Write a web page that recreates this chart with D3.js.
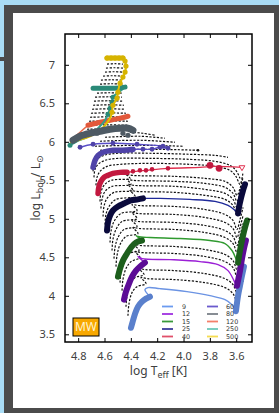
<!DOCTYPE html>
<html><head><meta charset="utf-8">
<script src="https://cdn.jsdelivr.net/npm/d3@7/dist/d3.min.js"></script>
<style>
html,body{margin:0;padding:0;background:#a9dcf5;overflow:hidden;}
svg{display:block;}
</style></head><body>
<svg id="c" width="279" height="413"></svg>
<script>
// ---------------- data ----------------
const masses = ["9","12","15","25","40","60","80","120","250","500"];
const thickColors = ["#5a80cc","#5c0c96","#1c5e1c","#0a0a3c","#c2183f","#4f43a8","#4e5a64","#e2583a","#2a8a78","#d6b300"];
const thinColors  = ["#6b93e3","#9b1fd6","#2f9a2f","#1f2a9a","#e0304f","#5a4fc8","#5f6b75","#e86a4a","#33a08c","#e0c000"];
const legendColors = ["#6b9bf0","#a030e0","#3a9a3a","#3b3b9b","#e0506a","#6a5acd","#7a8088","#f57f6a","#6cc8b8","#f5dc50"];
const xTicks = [4.8,4.6,4.4,4.2,4.0,3.8,3.6];
const yTicks = [3.5,4,4.5,5,5.5,6,6.5,7];

// coloured tracks [logTeff, logL]
const m9ms   = [[4.399,3.585],[4.384,3.676],[4.368,3.767],[4.346,3.858],[4.315,3.923],[4.285,3.963],[4.255,3.989]];
const m9post = [[4.255,3.989],[4.293,4.080],[4.270,4.106],[4.179,4.093],[3.974,4.054],[3.799,4.002],[3.685,3.950],[3.632,3.884],[3.602,3.793]];
const m9rsg  = [[3.602,3.800],[3.586,4.002],[3.571,4.132],[3.556,4.262],[3.541,4.379]];

const m12ms   = [[4.452,3.950],[4.437,4.054],[4.414,4.158],[4.391,4.249],[4.361,4.327],[4.331,4.379],[4.293,4.431]];
const m12post = [[4.293,4.431],[4.346,4.510],[4.315,4.483],[4.103,4.470],[3.875,4.444],[3.738,4.405],[3.662,4.327],[3.617,4.197],[3.594,4.119]];
const m12rsg  = [[3.594,4.130],[3.571,4.327],[3.556,4.483],[3.541,4.614],[3.526,4.718]];

const m15ms   = [[4.498,4.249],[4.482,4.353],[4.460,4.457],[4.429,4.549],[4.399,4.627],[4.361,4.692],[4.315,4.718]];
const m15post = [[4.315,4.718],[4.361,4.783],[4.346,4.770],[4.255,4.757],[4.027,4.744],[3.799,4.718],[3.685,4.679],[3.632,4.588],[3.602,4.483],[3.586,4.418]];
const m15rsg  = [[3.586,4.430],[3.579,4.510],[3.564,4.653],[3.548,4.783],[3.533,4.887],[3.518,4.978]];

const m25ms   = [[4.581,4.848],[4.574,4.952],[4.558,5.043],[4.536,5.108],[4.498,5.160],[4.452,5.199],[4.399,5.239],[4.346,5.252],[4.308,5.265]];
const m25post = [[4.308,5.265],[4.179,5.265],[3.951,5.252],[3.761,5.226],[3.662,5.173],[3.617,5.121],[3.586,5.069]];
const m25rsg  = [[3.586,5.070],[3.579,5.147],[3.564,5.265],[3.548,5.369],[3.533,5.447]];

const m40ms   = [[4.649,5.330],[4.642,5.421],[4.627,5.486],[4.604,5.538],[4.574,5.564],[4.536,5.590],[4.482,5.603],[4.429,5.603]];
const m40post = [[4.429,5.603],[4.118,5.655],[3.875,5.668],[3.761,5.681],[3.556,5.668]];
const m40dots = [[4.384,5.616],[4.331,5.629],[4.285,5.629],[4.239,5.642],[4.118,5.655]];
const m40big  = [[3.799,5.694],[3.730,5.655]];
const m40end  = [[3.556,5.668]];

const m60ms   = [[4.687,5.668],[4.672,5.759],[4.649,5.824],[4.611,5.864],[4.536,5.890],[4.460,5.890],[4.384,5.903]];
const m60post = [[4.384,5.903],[4.308,5.903],[4.239,5.903],[4.179,5.929],[4.118,5.916],[4.156,5.942],[4.353,5.968],[4.520,5.981],[4.687,5.968],[4.786,5.929]];
const m60dots = [[4.444,5.890],[4.391,5.890],[4.308,5.903],[4.239,5.903],[4.179,5.929],[4.118,5.916],[4.156,5.942],[4.353,5.968],[4.536,5.981],[4.687,5.968],[4.786,5.929]];

const m80ms   = [[4.839,6.020],[4.786,6.072],[4.710,6.111],[4.634,6.137],[4.558,6.163],[4.482,6.176],[4.422,6.176],[4.384,6.150]];
const m80dots = [[4.657,6.111],[4.460,6.111],[4.422,6.085]];

const m120ms   = [[4.725,6.215],[4.634,6.254],[4.558,6.280],[4.482,6.306],[4.422,6.332]];
const m120post = [[4.725,6.215],[4.786,6.124],[4.847,6.033]];

const m250ms   = [[4.687,6.697],[4.596,6.697],[4.520,6.697],[4.444,6.710]];
const m250post = [[4.444,6.710],[4.482,6.658],[4.536,6.580],[4.543,6.515],[4.558,6.436],[4.574,6.358],[4.596,6.280],[4.649,6.176],[4.718,6.072],[4.809,6.007],[4.862,5.955]];
const m250dots = [[4.536,6.580],[4.543,6.515],[4.558,6.436],[4.574,6.358],[4.862,5.955]];

const m500ms   = [[4.581,7.087],[4.520,7.087],[4.460,7.087]];
const m500post = [[4.460,7.087],[4.444,7.048],[4.437,6.983],[4.444,6.905],[4.460,6.840],[4.482,6.762],[4.498,6.645],[4.505,6.567],[4.536,6.475],[4.543,6.384],[4.558,6.306],[4.589,6.228],[4.634,6.150],[4.710,6.072],[4.801,6.020],[4.862,5.994]];
const m500dots = [[4.581,7.087],[4.550,7.087],[4.520,7.087],[4.490,7.087],[4.460,7.087],[4.444,7.048],[4.437,6.983],[4.444,6.905],[4.460,6.840],[4.482,6.762],[4.498,6.645],[4.505,6.567],[4.536,6.475],[4.543,6.384]];

// black dotted grid tracks
const d1  = [[4.422,3.741],[4.414,3.897],[4.391,4.041],[4.353,4.119],[4.285,4.158],[4.323,4.236],[4.277,4.223],[4.065,4.210],[3.837,4.171],[3.685,4.106],[3.624,4.028],[3.594,3.923],[3.571,4.041],[3.548,4.197]];
const d2  = [[4.437,3.858],[4.429,4.002],[4.406,4.145],[4.368,4.236],[4.300,4.275],[4.338,4.353],[4.293,4.340],[4.065,4.327],[3.837,4.288],[3.685,4.223],[3.624,4.145],[3.594,4.041],[3.571,4.145],[3.548,4.301]];
const d3t = [[4.467,4.067],[4.460,4.210],[4.437,4.353],[4.399,4.444],[4.331,4.497],[4.368,4.575],[4.323,4.562],[4.065,4.549],[3.837,4.510],[3.685,4.444],[3.624,4.366],[3.594,4.249],[3.571,4.379],[3.548,4.536]];
const d4  = [[4.482,4.171],[4.475,4.314],[4.452,4.444],[4.414,4.549],[4.338,4.588],[4.376,4.666],[4.331,4.653],[4.065,4.640],[3.837,4.601],[3.685,4.536],[3.624,4.457],[3.594,4.340],[3.571,4.470],[3.548,4.627]];
const d5  = [[4.513,4.379],[4.505,4.523],[4.482,4.666],[4.437,4.770],[4.346,4.809],[4.384,4.887],[4.338,4.874],[4.065,4.861],[3.837,4.822],[3.685,4.757],[3.624,4.679],[3.594,4.562],[3.571,4.692],[3.548,4.848]];
const d6  = [[4.528,4.483],[4.520,4.627],[4.498,4.757],[4.452,4.861],[4.353,4.900],[4.391,4.978],[4.346,4.965],[4.065,4.952],[3.837,4.913],[3.685,4.848],[3.624,4.770],[3.594,4.653],[3.571,4.783],[3.548,4.939]];
const d7  = [[4.543,4.588],[4.536,4.731],[4.513,4.861],[4.467,4.965],[4.353,5.004],[4.391,5.082],[4.346,5.069],[4.065,5.056],[3.837,5.017],[3.685,4.952],[3.624,4.874],[3.594,4.757],[3.571,4.887],[3.548,5.043]];
const d8  = [[4.558,4.692],[4.551,4.835],[4.528,4.965],[4.475,5.069],[4.353,5.108],[4.391,5.186],[4.346,5.173],[4.065,5.160],[3.837,5.121],[3.685,5.056],[3.624,4.978],[3.594,4.861],[3.571,4.991],[3.548,5.147]];
const d9  = [[4.596,4.926],[4.589,5.056],[4.566,5.160],[4.513,5.252],[4.368,5.291],[4.406,5.369],[4.361,5.356],[4.065,5.343],[3.837,5.304],[3.685,5.252],[3.624,5.173],[3.594,5.056],[3.571,5.173],[3.548,5.330]];
const d10 = [[4.611,5.030],[4.604,5.160],[4.581,5.265],[4.528,5.343],[4.384,5.369],[4.422,5.447],[4.376,5.434],[4.065,5.421],[3.837,5.382],[3.685,5.330],[3.624,5.252],[3.594,5.147],[3.571,5.265],[3.548,5.408]];
const d11 = [[4.627,5.134],[4.619,5.252],[4.596,5.356],[4.543,5.421],[4.399,5.447],[4.429,5.512],[4.384,5.499],[4.065,5.486],[3.837,5.460],[3.685,5.408],[3.624,5.330],[3.594,5.226],[3.571,5.330],[3.548,5.473]];
const d12 = [[4.634,5.226],[4.627,5.343],[4.604,5.434],[4.551,5.499],[4.406,5.525],[4.437,5.577],[4.391,5.564],[4.065,5.551],[3.837,5.525],[3.685,5.486],[3.624,5.408],[3.594,5.304],[3.571,5.395],[3.548,5.538]];
const d13 = [[4.665,5.434],[4.657,5.538],[4.634,5.616],[4.581,5.681],[4.482,5.707],[4.255,5.720],[3.951,5.707],[3.761,5.681],[3.647,5.629],[3.602,5.551],[3.571,5.447],[3.548,5.603]];
const d14 = [[4.680,5.538],[4.672,5.642],[4.649,5.707],[4.596,5.759],[4.498,5.785],[4.255,5.785],[3.951,5.772],[3.761,5.746],[3.647,5.694],[3.602,5.629],[3.571,5.525]];
const d15 = [[4.687,5.616],[4.680,5.707],[4.657,5.772],[4.604,5.824],[4.498,5.851],[4.255,5.851],[3.951,5.838],[3.761,5.824],[3.662,5.798]];
const d16 = [[4.634,5.890],[4.255,5.903],[3.890,5.890]];
const d17 = [[4.672,5.942],[4.331,5.955],[4.004,5.942]];
const d18 = [[4.634,6.007],[4.331,6.020],[4.065,5.994]];
const d19 = [[4.596,6.059],[4.331,6.072],[4.141,6.046]];
const d20 = [[4.406,6.124],[4.308,6.111],[4.217,6.085]];
const d16end = [[3.890,5.890]];

// short dotted tracks in the upper fan
const upperL  = [7.009,6.957,6.905,6.853,6.801,6.749,6.684,6.632,6.580,6.528,6.475,6.423,6.371,6.319,6.267,6.215,6.163];
const upperTl = [4.581,4.589,4.596,4.611,4.627,4.634,4.649,4.657,4.672,4.680,4.687,4.695,4.703,4.710,4.718,4.725,4.733];
const upperTr = [4.460,4.460,4.460,4.467,4.467,4.460,4.460,4.467,4.467,4.460,4.452,4.444,4.437,4.429,4.422,4.414,4.399];

// ---------------- drawing ----------------
const svg = d3.select("#c");
const W = 279, H = 413;
svg.append("rect").attr("x",4).attr("y",5).attr("width",W).attr("height",H).attr("fill","#4b4b4b");
svg.append("rect").attr("x",0).attr("y",57).attr("width",6).attr("height",4).attr("fill","#4b4b4b");
svg.append("rect").attr("x",13).attr("y",13).attr("width",261).attr("height",395).attr("fill","#ffffff");

const L = 65, R = 252, T = 34, B = 342;
const x = d3.scaleLinear().domain([4.9,3.48]).range([L,R]);
const y = d3.scaleLinear().domain([3.4,7.4]).range([B,T]);
const font = "'Noto Sans', 'DejaVu Sans', sans-serif";

svg.append("clipPath").attr("id","clip").append("rect")
  .attr("x",L).attr("y",T).attr("width",R-L).attr("height",B-T);
const g = svg.append("g").attr("clip-path","url(#clip)");

const line = d3.line().x(d=>x(d[0])).y(d=>y(d[1])).curve(d3.curveCatmullRom.alpha(0.5));

// dotted tracks
const dotted = [d1,d2,d3t,d4,d5,d6,d7,d8,d9,d10,d11,d12,d13,d14,d15,d16,d17,d18,d19,d20];
const upper = upperL.map((l,i)=>[[upperTl[i],l],[(upperTl[i]+upperTr[i])/2,l+0.005],[upperTr[i],l]]);
g.append("g").selectAll("path").data(dotted.concat(upper)).join("path")
  .attr("d",line).attr("fill","none").attr("stroke","#111")
  .attr("stroke-width",1.2).attr("stroke-dasharray","2.2 1.5");
g.append("g").selectAll("circle").data(d16end).join("circle")
  .attr("cx",d=>x(d[0])).attr("cy",d=>y(d[1])).attr("r",1.3).attr("fill","#111");

// coloured tracks (80 Msun drawn last, on top of the converging thin lines)
const tracks = [
  {i:0, thin:[m9post],  thick:[m9ms,m9rsg], w:6},
  {i:1, thin:[m12post], thick:[m12ms,m12rsg], w:6},
  {i:2, thin:[m15post], thick:[m15ms,m15rsg], w:6},
  {i:3, thin:[m25post], thick:[m25ms,m25rsg], w:6},
  {i:4, thin:[m40post], thick:[m40ms], w:5.5},
  {i:5, thin:[m60post], thick:[m60ms], w:5.5},
  {i:7, thin:[m120post], thick:[m120ms], w:5},
  {i:8, thin:[m250post], thick:[m250ms], w:5},
  {i:9, thin:[m500post], thick:[m500ms], w:5},
  {i:6, thin:[], thick:[m80ms], w:7}
];
const dots = [
  {i:4, pts:m40dots, r:2.3}, {i:4, pts:m40big, r:3.4},
  {i:5, pts:m60dots, r:2.4},
  {i:6, pts:m80dots, r:2.6},
  {i:8, pts:m250dots, r:2.5},
  {i:9, pts:m500dots, r:2.6}
];
tracks.forEach(t=>{
  const tg = g.append("g");
  tg.selectAll("path.thin").data(t.thin).join("path").attr("class","thin")
    .attr("d",line).attr("fill","none").attr("stroke",thinColors[t.i])
    .attr("stroke-width", t.i>=8 ? 2 : 1.4);
  tg.selectAll("path.thick").data(t.thick).join("path").attr("class","thick")
    .attr("d",line).attr("fill","none").attr("stroke",thickColors[t.i])
    .attr("stroke-width",t.w).attr("stroke-linecap","round").attr("stroke-linejoin","round");
  dots.filter(d=>d.i===t.i).forEach(d=>{
    tg.append("g").selectAll("circle").data(d.pts).join("circle")
      .attr("cx",p=>x(p[0])).attr("cy",p=>y(p[1])).attr("r",d.r)
      .attr("fill",thickColors[t.i]);
  });
});
// end marker of 40 Msun track
g.selectAll("path.endm").data(m40end).join("path").attr("class","endm")
  .attr("transform",d=>`translate(${x(d[0])},${y(d[1])}) rotate(180)`)
  .attr("d",d3.symbol(d3.symbolTriangle,14)).attr("fill","#fff")
  .attr("stroke",thinColors[4]).attr("stroke-width",1);

// axes
const axB = d3.axisBottom(x).tickValues(xTicks).tickSizeInner(-4).tickSizeOuter(0).tickPadding(10).tickFormat(d3.format(".1f"));
const axT = d3.axisTop(x).tickValues(xTicks).tickSizeInner(-4).tickSizeOuter(0).tickFormat("");
const axLf = d3.axisLeft(y).tickValues(yTicks).tickSizeInner(-4).tickSizeOuter(0).tickPadding(10).tickFormat(d=>String(d));
const axRt = d3.axisRight(y).tickValues(yTicks).tickSizeInner(-4).tickSizeOuter(0).tickFormat("");
function styleAx(sel){
  sel.select(".domain").remove();
  sel.selectAll(".tick line").attr("stroke","#000").attr("stroke-width",1);
  sel.selectAll(".tick text").attr("fill","#404040").attr("font-size",11).attr("font-family",font);
}
svg.append("g").attr("transform",`translate(0,${B})`).call(axB).call(styleAx);
svg.append("g").attr("transform",`translate(0,${T})`).call(axT).call(styleAx);
svg.append("g").attr("transform",`translate(${L},0)`).call(axLf).call(styleAx);
svg.append("g").attr("transform",`translate(${R},0)`).call(axRt).call(styleAx);
svg.append("rect").attr("x",L).attr("y",T).attr("width",R-L).attr("height",B-T)
  .attr("fill","none").attr("stroke","#000").attr("stroke-width",1.5);

// axis titles
const xt = svg.append("text").attr("x",(L+R)/2).attr("y",375).attr("text-anchor","middle")
  .attr("font-family",font).attr("font-size",12).attr("fill","#404040");
xt.append("tspan").text("log T");
xt.append("tspan").attr("dy",3).attr("font-size",9).text("eff");
xt.append("tspan").attr("dy",-3).text(" [K]");

const yt = svg.append("text").attr("transform",`translate(40,${(T+B)/2}) rotate(-90)`).attr("text-anchor","middle")
  .attr("font-family",font).attr("font-size",12).attr("fill","#404040");
yt.append("tspan").text("log L");
yt.append("tspan").attr("dy",3).attr("font-size",9).text("bol");
yt.append("tspan").attr("dy",-3).text(" / L");
yt.append("tspan").attr("dy",3).attr("font-size",9).text("\u2299");

// legend
const lg = svg.append("g");
masses.forEach((m,k)=>{
  const col = Math.floor(k/5), row = k%5;
  const lx = col===0 ? 162 : 207, tx = col===0 ? 182 : 226, ly = 306.5 + row*7.5;
  lg.append("line").attr("x1",lx).attr("x2",lx+11).attr("y1",ly).attr("y2",ly)
    .attr("stroke",legendColors[k]).attr("stroke-width",1.8);
  lg.append("text").attr("x",tx).attr("y",ly).attr("dy","0.36em")
    .attr("font-family","'DejaVu Sans', sans-serif").attr("font-size",6.4).attr("fill","#333").text(m);
});

// MW label
svg.append("rect").attr("x",73).attr("y",318).attr("width",26).attr("height",18)
  .attr("fill","#f8a800").attr("stroke","#000").attr("stroke-width",1);
svg.append("text").attr("x",86).attr("y",327).attr("dy","0.36em").attr("text-anchor","middle")
  .attr("font-family",font).attr("font-size",12).attr("fill","#fff4d0").text("MW");
</script>
</body></html>
